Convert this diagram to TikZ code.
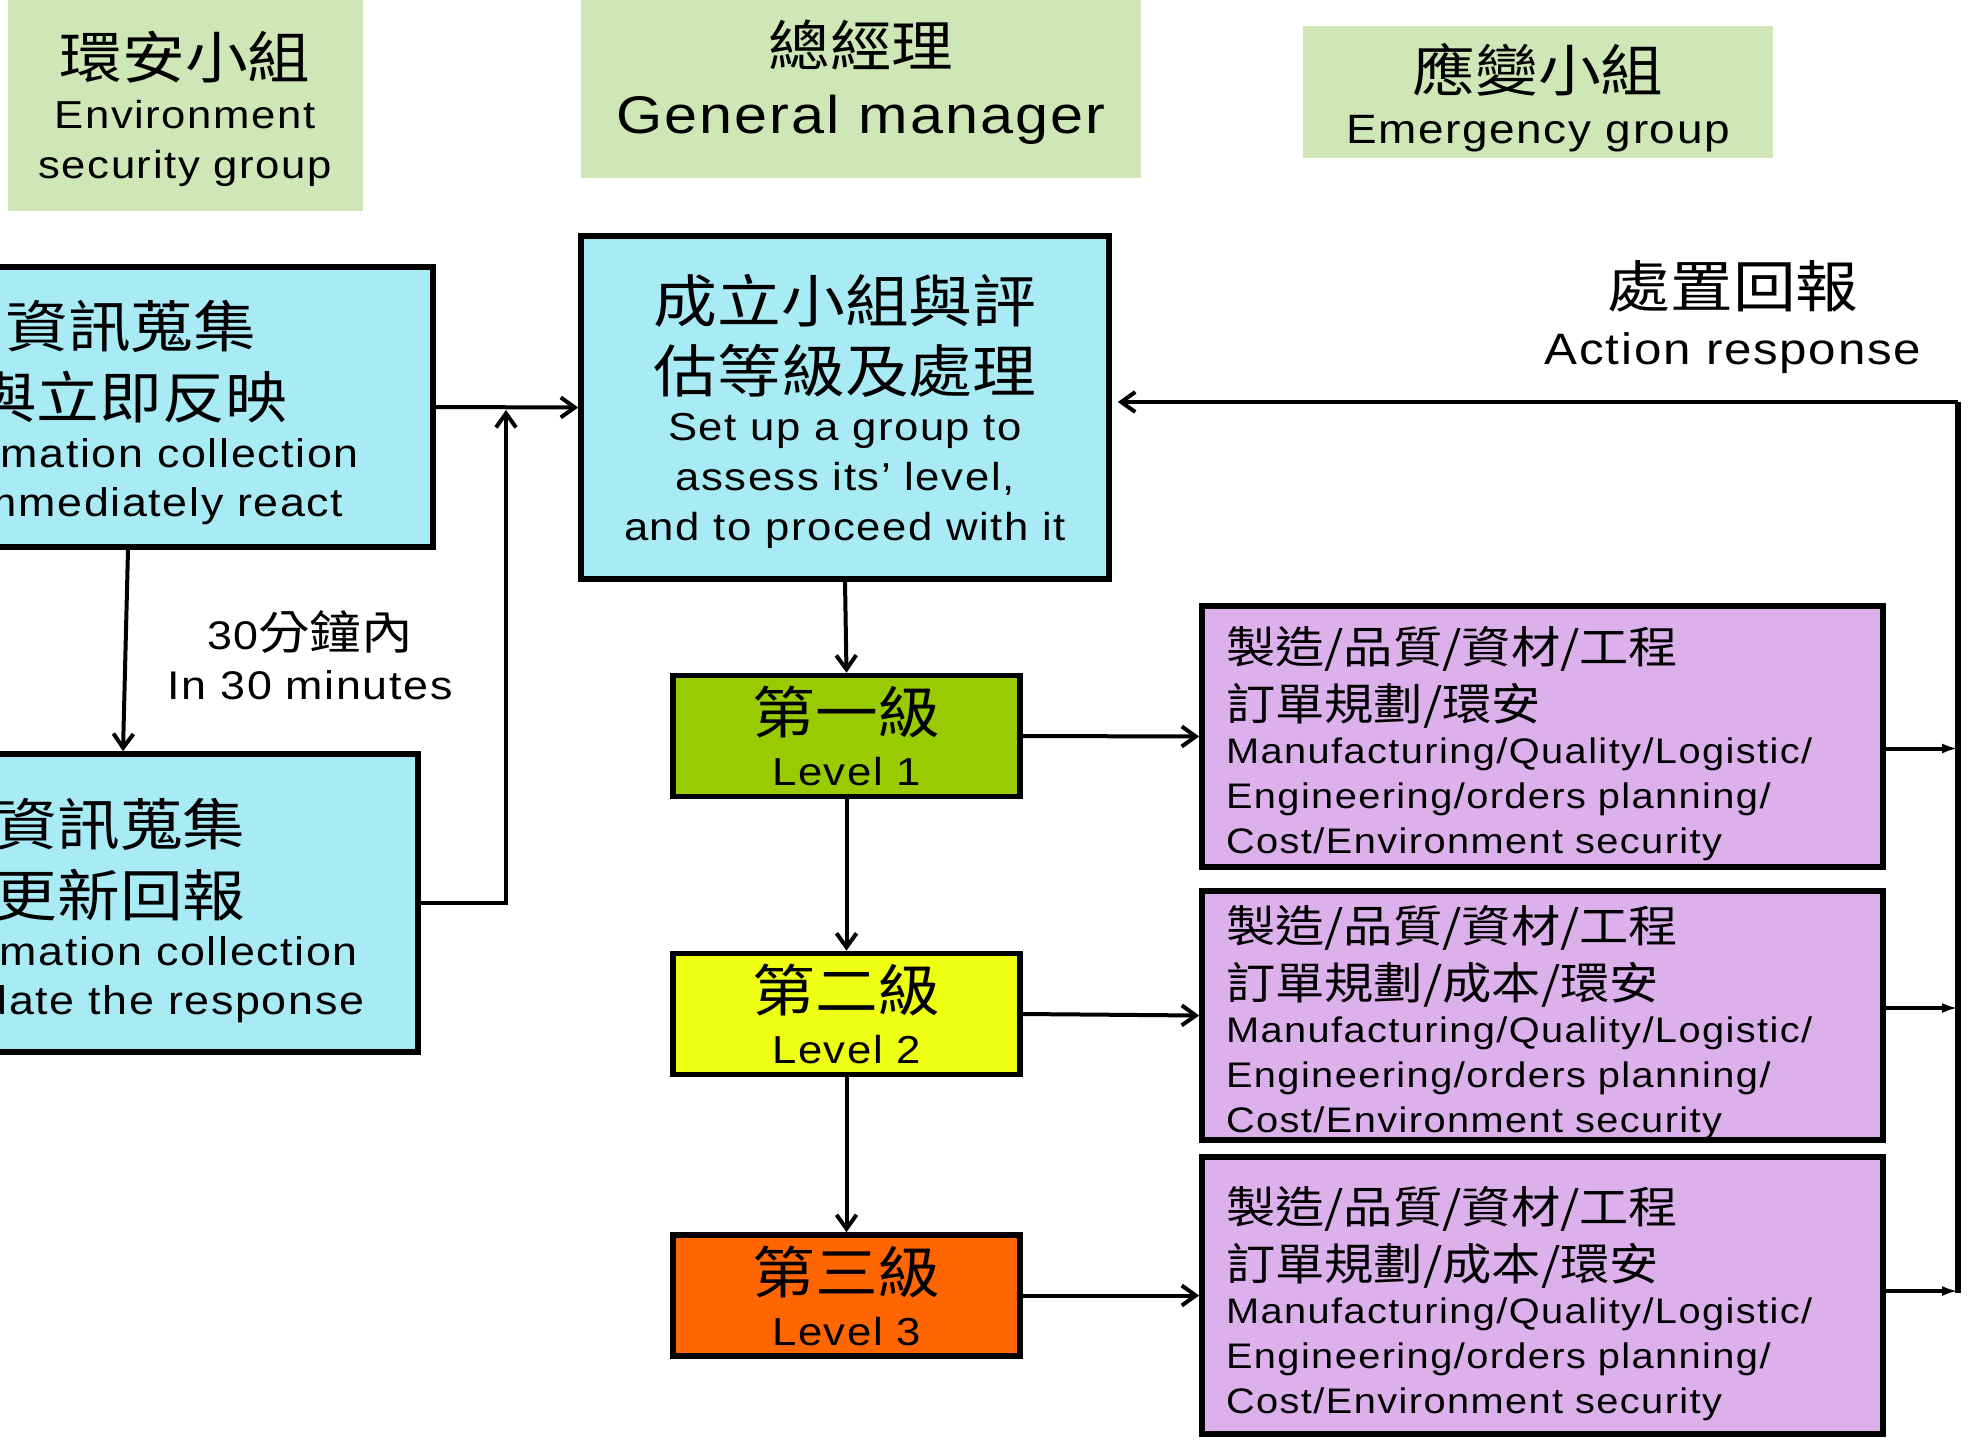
\documentclass[tikz,border=0pt]{standalone}
\usepackage{fontspec}
\setmainfont{Liberation Sans}[FakeStretch=1.12,LetterSpace=4]
\newfontfamily\cjk{Noto Sans CJK TC}[FakeStretch=1.12]
\usetikzlibrary{arrows.meta}
\lineskiplimit=-100pt

\definecolor{hdrgreen}{RGB}{207,230,183}
\definecolor{infocyan}{RGB}{168,235,245}
\definecolor{deptpurple}{RGB}{220,177,235}
\definecolor{lvlone}{RGB}{153,204,0}
\definecolor{lvltwo}{RGB}{238,255,20}
\definecolor{lvlthree}{RGB}{255,102,0}

\newcommand{\zh}[2]{{\cjk\fontsize{#1}{#1}\selectfont #2}}

\tikzset{every picture/.style={line width=2pt}}
\tikzset{
  hdrbox/.style={fill=hdrgreen, align=center, inner sep=0pt},
  infobox/.style={draw, line width=2.8pt, fill=infocyan, align=center, inner sep=0pt, font=\fontsize{20}{24.5}\selectfont},
  lvlbox/.style={draw, line width=2.8pt, align=center, inner sep=0pt, minimum width=173.5pt, minimum height=60.5pt, font=\fontsize{19.5}{26}\selectfont},
  deptbox/.style={draw, line width=2.8pt, fill=deptpurple, align=left, text width=316.5pt, inner xsep=12pt, inner ysep=0pt, minimum width=340.5pt, font=\fontsize{17.75}{22.5}\selectfont},
  flow/.style={line width=2pt, -{Straight Barb[length=7pt,width=10pt]}},
  feed/.style={line width=2pt, -{Latex[length=8pt,width=5pt]}},
  bus/.style={line width=3pt},
}

\begin{document}
\begin{tikzpicture}[x=0.5pt,y=0.5pt,yscale=-1]
\useasboundingbox (0,0) rectangle (1968,1445);
\clip (0,0) rectangle (1968,1445);

%Group headers
\node[hdrbox, minimum width=177.5pt, minimum height=105.5pt, font=\fontsize{19.5}{25}\selectfont] (envhdr) at (185,105) {\rule{0pt}{27.7pt}\zh{28}{環安小組}\\ Environment\\ security group};
\node[hdrbox, minimum width=280pt, minimum height=89pt, font=\fontsize{26.5}{33.5}\selectfont] (gmhdr) at (861,89) {\zh{27.5}{總經理}\\ General manager\rule[-12.6pt]{0pt}{12.6pt}};
\node[hdrbox, minimum width=235pt, minimum height=66pt, font=\fontsize{20.5}{26}\selectfont] (emghdr) at (1538,92) {\rule{0pt}{29.7pt}\zh{28}{應變小組}\\ Emergency group};

%Information boxes (cut by the left edge)
\node[infobox, minimum width=302pt, minimum height=140pt] (info1) at (131,407) {\rule{0pt}{28.7pt}\zh{28}{資訊蒐集}\\[11pt] \zh{28}{與立即反映}\\ Information collection\\ \hspace*{-21pt}and immediately react};
\node[infobox, minimum width=288pt, minimum height=149pt] (info2) at (130,903) {\rule{0pt}{30.7pt}\hspace*{-10pt}\zh{28}{資訊蒐集}\\[11pt] \hspace*{-10pt}\zh{28}{更新回報}\\ Information collection\\ \hspace*{-29pt}and update the response};

%Assessment box
\node[infobox, minimum width=264pt, minimum height=171.5pt, font=\fontsize{19.5}{25}\selectfont] (assess) at (845,407.5) {\rule{0pt}{28.1pt}\zh{28.5}{成立小組與評}\\[10pt] \zh{28.5}{估等級及處理}\\[-0.75pt] Set up a group to\\ assess its’ level,\\ and to proceed with it};

%Levels
\node[lvlbox, fill=lvlone] (lvl1) at (846.5,736) {\zh{28}{第一級}\\ Level 1};
\node[lvlbox, fill=lvltwo] (lvl2) at (846.5,1014) {\zh{28}{第二級}\\ Level 2};
\node[lvlbox, fill=lvlthree] (lvl3) at (846.5,1295.5) {\zh{28}{第三級}\\ Level 3};

%Departments
\node[deptbox, minimum height=130.5pt] (dept1) at (1542.5,736.5) {\rule{0pt}{25.3pt}\zh{22}{製造/品質/資材/工程}\\[5pt] \zh{22}{訂單規劃/環安}\\[-1pt] Manufacturing/Quality/Logistic/\\ Engineering/orders planning/\\ Cost/Environment security};
\node[deptbox, minimum height=124.5pt] (dept2) at (1542.5,1015.5) {\rule{0pt}{25.3pt}\zh{22}{製造/品質/資材/工程}\\[5pt] \zh{22}{訂單規劃/成本/環安}\\[-1pt] Manufacturing/Quality/Logistic/\\ Engineering/orders planning/\\ Cost/Environment security};
\node[deptbox, minimum height=138.5pt] (dept3) at (1542.5,1295.5) {\rule{0pt}{26.3pt}\zh{22}{製造/品質/資材/工程}\\[5pt] \zh{22}{訂單規劃/成本/環安}\\[-1pt] Manufacturing/Quality/Logistic/\\ Engineering/orders planning/\\ Cost/Environment security};

% Text Node
\node[align=center, inner sep=0pt, font=\fontsize{20}{25}\selectfont] (timing) at (310,655) {30\zh{23}{分鐘內}\\ In 30 minutes};
% Text Node
\node[align=center, inner sep=0pt, font=\fontsize{22}{28.5}\selectfont] (respond) at (1733,317) {\zh{28}{處置回報}\\ Action response};

\coordinate (merge) at (506,410);
\coordinate (busT) at (1958,402);
\coordinate (busB) at (1958,1293);

%Straight Lines
\draw[flow] ([xshift=-1.5pt]info1.south) -- ([xshift=-3.5pt]info2.north);
\draw[flow] (info1.east) -- (assess.west);
\draw[flow] (info2.east) -| (merge);
\draw[flow] (assess.south) -- (lvl1.north);
\draw[flow] (lvl1.south) -- (lvl2.north);
\draw[flow] (lvl2.south) -- (lvl3.north);
\draw[flow] (lvl1.east) -- (dept1.west);
\draw[flow] (lvl2.east) -- (dept2.west);
\draw[flow] (lvl3.east) -- (dept3.west);

%Feedback to the bus
\draw[feed] ([yshift=6pt]dept1.east) -- ([yshift=6pt]dept1.east -| busB);
\draw[feed] ([yshift=-3.75pt]dept2.east) -- ([yshift=-3.75pt]dept2.east -| busB);
\draw[feed] ([yshift=-2.25pt]dept3.east) -- ([yshift=-2.25pt]dept3.east -| busB);
\draw[bus] (busB) -- (busT);
\draw[flow, shorten >=3pt] (busT) -- (busT -| assess.east);

\end{tikzpicture}
\end{document}
